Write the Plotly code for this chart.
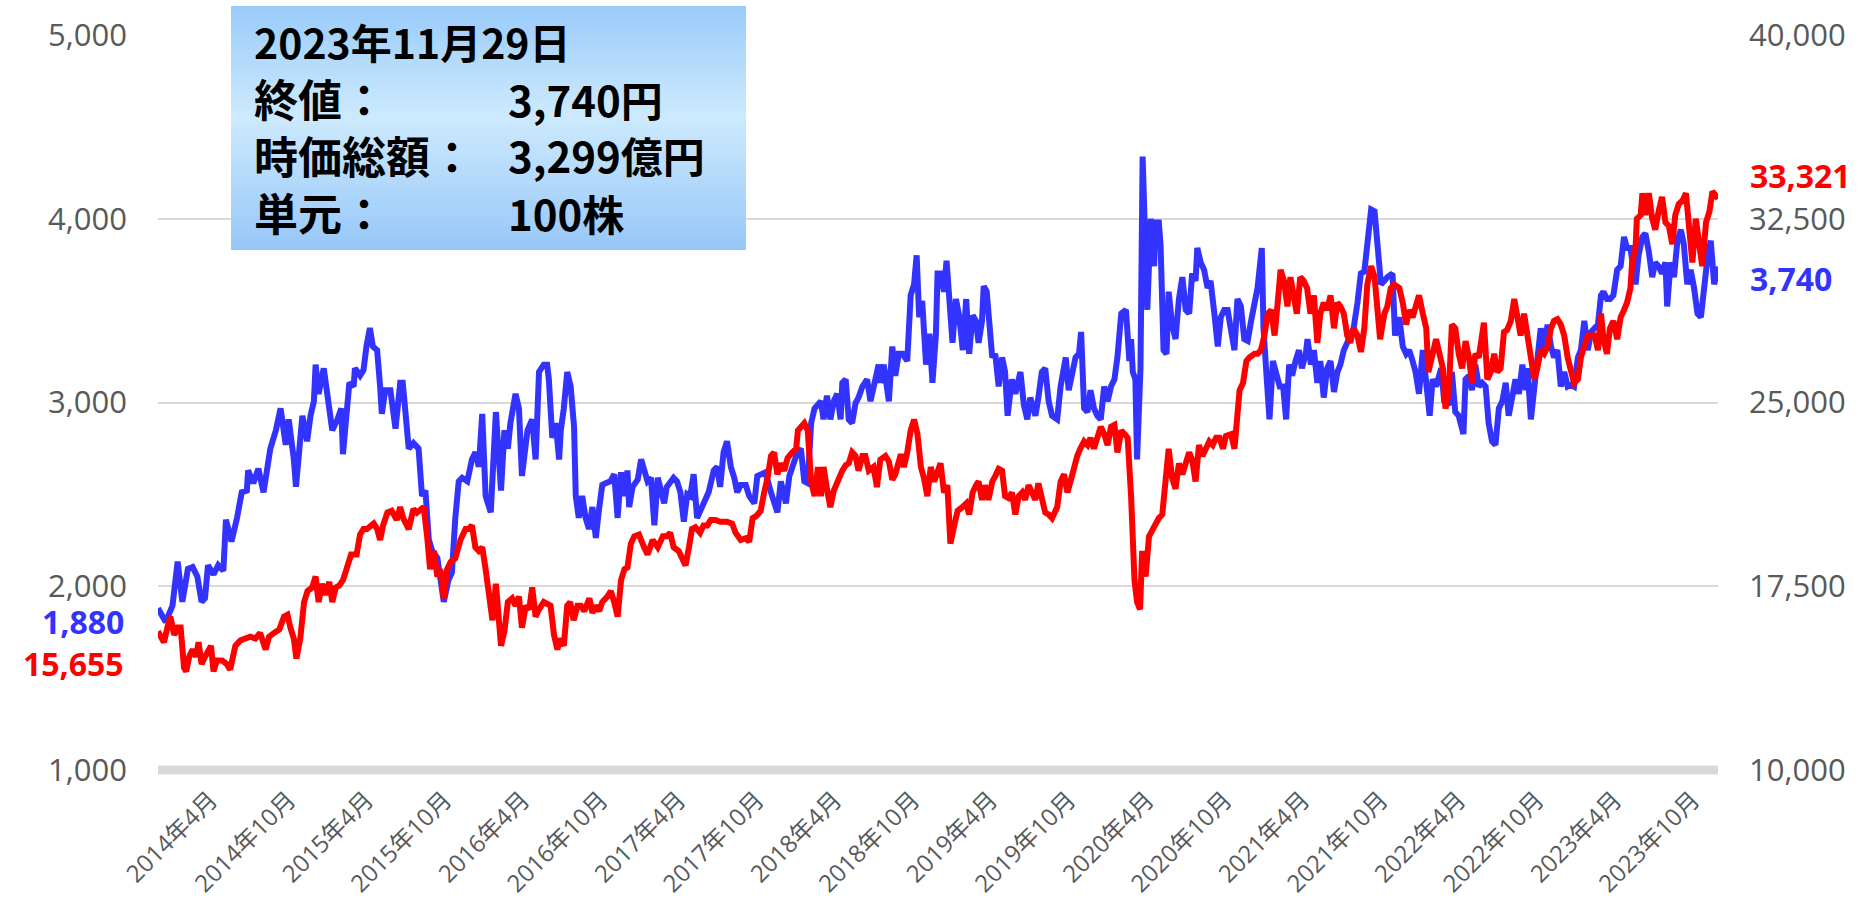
import base64
import pandas as pd
import plotly.graph_objects as go

# ---------------- data ----------------
blue_dates = [
    "2013-11-29", "2013-12-17", "2014-01-02", "2014-01-14", "2014-01-25", "2014-02-07", "2014-02-18", "2014-03-01",
    "2014-03-11", "2014-03-19", "2014-03-26", "2014-04-08", "2014-04-19", "2014-05-01", "2014-05-07", "2014-05-20",
    "2014-06-02", "2014-06-13", "2014-06-25", "2014-06-28", "2014-07-10", "2014-07-22", "2014-08-03", "2014-08-19",
    "2014-09-01", "2014-09-12", "2014-09-24", "2014-10-01", "2014-10-13", "2014-10-18", "2014-11-02", "2014-11-13",
    "2014-11-21", "2014-11-29", "2014-12-03", "2014-12-10", "2014-12-22", "2014-12-30", "2015-01-11", "2015-01-23",
    "2015-02-01", "2015-02-05", "2015-02-12", "2015-02-20", "2015-03-02", "2015-03-05", "2015-03-17", "2015-03-25",
    "2015-04-01", "2015-04-09", "2015-04-16", "2015-04-26", "2015-05-03", "2015-05-07", "2015-05-15", "2015-05-27",
    "2015-06-08", "2015-06-19", "2015-06-25", "2015-07-01", "2015-07-09", "2015-07-20", "2015-08-01", "2015-08-09",
    "2015-08-17", "2015-08-25", "2015-09-02", "2015-09-14", "2015-09-21", "2015-09-29", "2015-10-10", "2015-10-18",
    "2015-10-26", "2015-11-03", "2015-11-11", "2015-11-23", "2015-12-04", "2015-12-12", "2015-12-20", "2015-12-28",
    "2016-01-05", "2016-01-17", "2016-01-29", "2016-02-10", "2016-02-18", "2016-02-26", "2016-03-03", "2016-03-15",
    "2016-03-23", "2016-03-30", "2016-04-12", "2016-04-23", "2016-05-01", "2016-05-09", "2016-05-20", "2016-05-28",
    "2016-06-01", "2016-06-09", "2016-06-17", "2016-06-25", "2016-06-29", "2016-07-06", "2016-07-14", "2016-07-22",
    "2016-07-30", "2016-08-03", "2016-08-10", "2016-08-18", "2016-08-26", "2016-09-03", "2016-09-11", "2016-09-19",
    "2016-09-26", "2016-10-04", "2016-10-12", "2016-10-23", "2016-11-01", "2016-11-09", "2016-11-17", "2016-11-25",
    "2016-12-02", "2016-12-06", "2016-12-14", "2016-12-26", "2017-01-03", "2017-01-10", "2017-01-18", "2017-01-26",
    "2017-02-03", "2017-02-11", "2017-02-19", "2017-02-26", "2017-03-04", "2017-03-12", "2017-03-20", "2017-03-28",
    "2017-04-05", "2017-04-13", "2017-04-21", "2017-04-28", "2017-05-06", "2017-05-14", "2017-05-21", "2017-06-03",
    "2017-06-10", "2017-06-22", "2017-06-30", "2017-07-07", "2017-07-15", "2017-07-23", "2017-08-01", "2017-08-09",
    "2017-08-16", "2017-08-24", "2017-09-05", "2017-09-13", "2017-09-25", "2017-10-02", "2017-10-14", "2017-10-21",
    "2017-11-03", "2017-11-10", "2017-11-18", "2017-11-26", "2017-12-08", "2017-12-16", "2017-12-27", "2018-01-04",
    "2018-01-12", "2018-01-20", "2018-01-28", "2018-02-05", "2018-02-13", "2018-02-21", "2018-02-28", "2018-03-06",
    "2018-03-14", "2018-03-22", "2018-03-30", "2018-04-07", "2018-04-15", "2018-04-19", "2018-04-27", "2018-05-04",
    "2018-05-12", "2018-05-20", "2018-05-27", "2018-06-05", "2018-06-16", "2018-06-24", "2018-07-01", "2018-07-05",
    "2018-07-13", "2018-07-17", "2018-07-25", "2018-08-06", "2018-08-14", "2018-08-21", "2018-08-29", "2018-09-07",
    "2018-09-18", "2018-09-26", "2018-10-04", "2018-10-10", "2018-10-16", "2018-10-23", "2018-11-01", "2018-11-09",
    "2018-11-16", "2018-11-24", "2018-11-28", "2018-12-05", "2018-12-13", "2018-12-19", "2018-12-25", "2019-01-02",
    "2019-01-10", "2019-01-18", "2019-01-26", "2019-02-03", "2019-02-10", "2019-02-18", "2019-02-26", "2019-03-04",
    "2019-03-12", "2019-03-16", "2019-03-23", "2019-04-01", "2019-04-05", "2019-04-12", "2019-04-20", "2019-04-28",
    "2019-05-05", "2019-05-11", "2019-05-21", "2019-05-29", "2019-06-10", "2019-06-18", "2019-06-26", "2019-07-03",
    "2019-07-15", "2019-07-22", "2019-07-30", "2019-08-07", "2019-08-15", "2019-08-23", "2019-09-04", "2019-09-12",
    "2019-09-24", "2019-10-01", "2019-10-09", "2019-10-17", "2019-10-25", "2019-10-30", "2019-11-06", "2019-11-14",
    "2019-11-21", "2019-11-29", "2019-12-07", "2019-12-15", "2019-12-23", "2019-12-31", "2020-01-08", "2020-01-16",
    "2020-01-23", "2020-02-01", "2020-02-12", "2020-02-20", "2020-02-24", "2020-02-28", "2020-03-05", "2020-03-09",
    "2020-03-17", "2020-03-22", "2020-04-02", "2020-04-10", "2020-04-18", "2020-04-21", "2020-04-29", "2020-05-03",
    "2020-05-10", "2020-05-17", "2020-05-22", "2020-05-30", "2020-06-07", "2020-06-15", "2020-06-23", "2020-07-01",
    "2020-07-09", "2020-07-16", "2020-07-24", "2020-07-28", "2020-08-05", "2020-08-13", "2020-08-21", "2020-08-28",
    "2020-09-06", "2020-09-14", "2020-09-21", "2020-09-29", "2020-10-07", "2020-10-15", "2020-10-23", "2020-10-30",
    "2020-11-07", "2020-11-15", "2020-11-23", "2020-12-01", "2020-12-09", "2020-12-16", "2020-12-26", "2020-12-30",
    "2021-01-05", "2021-01-13", "2021-01-21", "2021-01-29", "2021-02-06", "2021-02-14", "2021-02-21", "2021-02-28",
    "2021-03-07", "2021-03-15", "2021-03-23", "2021-03-30", "2021-04-08", "2021-04-12", "2021-04-20", "2021-04-27",
    "2021-05-05", "2021-05-12", "2021-05-20", "2021-05-28", "2021-06-05", "2021-06-13", "2021-06-21", "2021-06-28",
    "2021-07-06", "2021-07-14", "2021-07-21", "2021-07-29", "2021-08-07", "2021-08-15", "2021-08-23", "2021-08-30",
    "2021-09-08", "2021-09-16", "2021-09-23", "2021-10-01", "2021-10-09", "2021-10-16", "2021-10-28", "2021-11-03",
    "2021-11-13", "2021-11-21", "2021-11-29", "2021-12-06", "2021-12-14", "2021-12-21", "2021-12-29", "2022-01-07",
    "2022-01-15", "2022-01-23", "2022-01-30", "2022-02-07", "2022-02-19", "2022-02-26", "2022-03-09", "2022-03-16",
    "2022-03-24", "2022-04-01", "2022-04-12", "2022-04-17", "2022-04-25", "2022-05-02", "2022-05-10", "2022-05-18",
    "2022-05-26", "2022-06-03", "2022-06-10", "2022-06-18", "2022-06-26", "2022-07-04", "2022-07-12", "2022-07-20",
    "2022-07-27", "2022-08-05", "2022-08-12", "2022-08-20", "2022-08-28", "2022-09-05", "2022-09-09", "2022-09-17",
    "2022-09-25", "2022-10-02", "2022-10-10", "2022-10-18", "2022-10-26", "2022-11-03", "2022-11-10", "2022-11-18",
    "2022-11-26", "2022-12-04", "2022-12-12", "2022-12-20", "2022-12-27", "2023-01-05", "2023-01-12", "2023-01-20",
    "2023-01-28", "2023-02-05", "2023-02-13", "2023-02-21", "2023-02-28", "2023-03-06", "2023-03-14", "2023-03-21",
    "2023-03-29", "2023-04-07", "2023-04-15", "2023-04-23", "2023-04-30", "2023-05-08", "2023-05-20", "2023-05-27",
    "2023-06-05", "2023-06-12", "2023-06-20", "2023-06-28", "2023-07-05", "2023-07-13", "2023-07-21", "2023-07-29",
    "2023-08-02", "2023-08-10", "2023-08-18", "2023-08-26", "2023-09-03", "2023-09-10", "2023-09-18", "2023-09-26",
    "2023-10-04", "2023-10-12", "2023-10-20", "2023-10-27", "2023-11-05", "2023-11-12", "2023-11-20", "2023-11-29",
]
blue_vals = [
    1880, 1806, 1895, 2134, 1915, 2094, 2104, 2054,
    1915, 1935, 2114, 2064, 2114, 2084, 2362, 2243,
    2372, 2511, 2521, 2630, 2561, 2640, 2511, 2749,
    2849, 2968, 2769, 2908, 2690, 2541, 2928, 2789,
    2928, 3007, 3206, 3047, 3186, 3027, 2849, 2908,
    2968, 2719, 2868, 3107, 3087, 3186, 3146, 3176,
    3305, 3405, 3305, 3285, 3087, 2938, 3067, 3067,
    2858, 3107, 3107, 2968, 2749, 2779, 2749, 2491,
    2521, 2253, 2193, 2154, 2015, 1915, 2034, 2074,
    2372, 2571, 2590, 2571, 2690, 2729, 2650, 2938,
    2491, 2402, 2948, 2521, 2849, 2749, 2888, 3047,
    2968, 2600, 2849, 2908, 2690, 3166, 3206, 3206,
    3126, 2808, 2888, 2690, 2849, 2968, 3166, 3087,
    2868, 2491, 2372, 2491, 2372, 2312, 2431, 2263,
    2411, 2551, 2561, 2571, 2610, 2372, 2620, 2491,
    2630, 2431, 2541, 2580, 2690, 2630, 2571, 2590,
    2332, 2590, 2511, 2451, 2541, 2571, 2590, 2571,
    2511, 2352, 2501, 2491, 2610, 2372, 2411, 2491,
    2511, 2630, 2650, 2541, 2729, 2789, 2650, 2590,
    2511, 2551, 2551, 2491, 2451, 2600, 2610, 2620,
    2511, 2461, 2402, 2571, 2451, 2600, 2690, 2729,
    2749, 2571, 2561, 2888, 2968, 2987, 3007, 2908,
    3037, 2908, 3007, 3047, 2908, 3107, 3126, 2908,
    2888, 2997, 3027, 3087, 3126, 3007, 3087, 3146,
    3206, 3107, 3206, 3007, 3305, 3146, 3265, 3265,
    3226, 3583, 3643, 3801, 3464, 3553, 3206, 3374,
    3107, 3364, 3702, 3702, 3603, 3772, 3583, 3325,
    3563, 3464, 3285, 3563, 3265, 3474, 3444, 3325,
    3444, 3633, 3603, 3364, 3245, 3265, 3087, 3245,
    3166, 2928, 3126, 3047, 3166, 2987, 2908, 3027,
    2928, 3027, 3166, 3186, 3007, 2928, 2908, 3087,
    3245, 3067, 3166, 3245, 3265, 3384, 2968, 2948,
    3067, 2968, 2928, 2908, 3087, 3007, 3087, 3126,
    3245, 3484, 3504, 3226, 3345, 3166, 3126, 2690,
    3186, 4338, 3504, 4000, 3742, 3980, 3980, 3861,
    3285, 3265, 3603, 3424, 3345, 3563, 3682, 3504,
    3484, 3702, 3662, 3841, 3762, 3722, 3623, 3662,
    3484, 3305, 3464, 3504, 3504, 3364, 3285, 3563,
    3523, 3345, 3335, 3444, 3563, 3623, 3841, 3404,
    3186, 2908, 3226, 3166, 3087, 3087, 2908, 3206,
    3146, 3226, 3285, 3186, 3265, 3345, 3206, 3285,
    3107, 3226, 3027, 3186, 3226, 3057, 3166, 3206,
    3285, 3325, 3364, 3404, 3543, 3702, 3712, 3881,
    4050, 4040, 3801, 3643, 3662, 3682, 3702, 3364,
    3464, 3305, 3265, 3285, 3226, 3166, 3047, 3285,
    3107, 2928, 3126, 3087, 3186, 3007, 2987, 3166,
    2948, 2928, 2828, 3126, 3146, 3067, 3206, 3087,
    3107, 3087, 2888, 2789, 2769, 2968, 3007, 3107,
    2928, 3047, 3126, 3047, 3206, 3067, 3186, 2908,
    3087, 3285, 3404, 3285, 3424, 3305, 3245, 3285,
    3087, 3166, 3087, 3097, 3087, 3245, 3285, 3444,
    3285, 3384, 3404, 3424, 3583, 3603, 3563, 3563,
    3583, 3722, 3742, 3901, 3841, 3841, 3643, 3801,
    3901, 3921, 3821, 3682, 3762, 3742, 3702, 3762,
    3523, 3762, 3682, 3881, 3940, 3861, 3643, 3722,
    3623, 3484, 3464, 3643, 3801, 3881, 3643, 3740,
]

red_dates = [
    "2013-11-29", "2013-12-13", "2013-12-21", "2013-12-28", "2014-01-06", "2014-01-14", "2014-01-21", "2014-01-29",
    "2014-02-03", "2014-02-10", "2014-02-18", "2014-02-26", "2014-03-04", "2014-03-11", "2014-03-19", "2014-03-26",
    "2014-04-02", "2014-04-08", "2014-04-16", "2014-04-28", "2014-05-09", "2014-05-17", "2014-05-29", "2014-06-10",
    "2014-06-21", "2014-07-03", "2014-07-15", "2014-07-26", "2014-08-08", "2014-08-16", "2014-08-27", "2014-09-09",
    "2014-09-20", "2014-09-28", "2014-10-05", "2014-10-13", "2014-10-19", "2014-10-28", "2014-11-06", "2014-11-14",
    "2014-11-25", "2014-12-03", "2014-12-10", "2014-12-18", "2014-12-26", "2015-01-04", "2015-01-11", "2015-01-19",
    "2015-01-27", "2015-02-05", "2015-02-12", "2015-02-24", "2015-03-02", "2015-03-09", "2015-03-17", "2015-03-25",
    "2015-04-02", "2015-04-10", "2015-04-18", "2015-04-26", "2015-05-03", "2015-05-10", "2015-05-20", "2015-05-30",
    "2015-06-11", "2015-06-19", "2015-06-26", "2015-07-09", "2015-07-20", "2015-07-28", "2015-08-05", "2015-08-13",
    "2015-08-21", "2015-08-28", "2015-09-06", "2015-09-14", "2015-09-21", "2015-09-29", "2015-10-07", "2015-10-15",
    "2015-10-26", "2015-11-07", "2015-11-19", "2015-11-26", "2015-12-04", "2015-12-12", "2015-12-20", "2015-12-28",
    "2016-01-05", "2016-01-13", "2016-01-21", "2016-01-29", "2016-02-10", "2016-02-18", "2016-02-26", "2016-03-07",
    "2016-03-15", "2016-03-23", "2016-03-30", "2016-04-08", "2016-04-16", "2016-04-23", "2016-05-01", "2016-05-09",
    "2016-05-20", "2016-06-05", "2016-06-13", "2016-06-21", "2016-06-28", "2016-07-06", "2016-07-14", "2016-07-21",
    "2016-07-29", "2016-08-07", "2016-08-15", "2016-08-23", "2016-09-04", "2016-09-11", "2016-09-19", "2016-09-27",
    "2016-10-04", "2016-10-16", "2016-10-24", "2016-11-01", "2016-11-09", "2016-11-17", "2016-11-25", "2016-12-02",
    "2016-12-10", "2016-12-18", "2016-12-29", "2017-01-10", "2017-01-18", "2017-01-30", "2017-02-11", "2017-02-23",
    "2017-03-04", "2017-03-12", "2017-03-20", "2017-04-01", "2017-04-09", "2017-04-17", "2017-04-25", "2017-05-02",
    "2017-05-10", "2017-05-21", "2017-05-29", "2017-06-07", "2017-06-15", "2017-06-26", "2017-07-07", "2017-07-23",
    "2017-08-04", "2017-08-12", "2017-08-24", "2017-09-05", "2017-09-13", "2017-09-21", "2017-09-29", "2017-10-10",
    "2017-10-18", "2017-10-26", "2017-11-03", "2017-11-10", "2017-11-18", "2017-11-26", "2017-12-04", "2017-12-12",
    "2017-12-23", "2018-01-01", "2018-01-05", "2018-01-20", "2018-01-28", "2018-02-05", "2018-02-13", "2018-02-21",
    "2018-02-28", "2018-03-06", "2018-03-14", "2018-03-22", "2018-03-30", "2018-04-07", "2018-04-19", "2018-04-27",
    "2018-05-04", "2018-05-12", "2018-05-20", "2018-05-27", "2018-06-05", "2018-06-12", "2018-06-20", "2018-07-01",
    "2018-07-09", "2018-07-17", "2018-07-29", "2018-08-06", "2018-08-14", "2018-08-21", "2018-09-03", "2018-09-10",
    "2018-09-18", "2018-09-26", "2018-10-04", "2018-10-12", "2018-10-20", "2018-10-27", "2018-11-04", "2018-11-12",
    "2018-11-20", "2018-12-05", "2018-12-13", "2018-12-21", "2018-12-28", "2019-01-06", "2019-01-14", "2019-01-25",
    "2019-02-03", "2019-02-10", "2019-02-18", "2019-02-26", "2019-03-04", "2019-03-12", "2019-03-19", "2019-03-27",
    "2019-04-05", "2019-04-12", "2019-04-20", "2019-04-28", "2019-05-05", "2019-05-13", "2019-05-21", "2019-05-29",
    "2019-06-06", "2019-06-14", "2019-06-21", "2019-06-29", "2019-07-07", "2019-07-15", "2019-07-22", "2019-07-30",
    "2019-08-07", "2019-08-15", "2019-08-23", "2019-09-04", "2019-09-12", "2019-09-20", "2019-09-28", "2019-10-05",
    "2019-10-13", "2019-10-21", "2019-10-28", "2019-11-06", "2019-11-14", "2019-11-21", "2019-11-29", "2019-12-07",
    "2019-12-15", "2019-12-23", "2019-12-31", "2020-01-08", "2020-01-16", "2020-01-23", "2020-02-01", "2020-02-09",
    "2020-02-16", "2020-02-24", "2020-02-28", "2020-03-03", "2020-03-09", "2020-03-16", "2020-03-21", "2020-03-29",
    "2020-04-06", "2020-04-14", "2020-04-21", "2020-04-29", "2020-05-07", "2020-05-15", "2020-05-22", "2020-05-30",
    "2020-06-07", "2020-06-15", "2020-06-23", "2020-07-01", "2020-07-09", "2020-07-16", "2020-07-24", "2020-08-01",
    "2020-08-09", "2020-08-17", "2020-08-25", "2020-09-02", "2020-09-10", "2020-09-18", "2020-09-26", "2020-10-03",
    "2020-10-15", "2020-10-23", "2020-10-29", "2020-11-04", "2020-11-12", "2020-11-20", "2020-11-27", "2020-12-09",
    "2020-12-16", "2020-12-24", "2021-01-01", "2021-01-09", "2021-01-17", "2021-01-25", "2021-02-02", "2021-02-08",
    "2021-02-16", "2021-02-24", "2021-03-03", "2021-03-10", "2021-03-18", "2021-03-26", "2021-04-03", "2021-04-11",
    "2021-04-19", "2021-04-27", "2021-05-05", "2021-05-12", "2021-05-20", "2021-05-28", "2021-06-05", "2021-06-13",
    "2021-06-21", "2021-06-28", "2021-07-06", "2021-07-14", "2021-07-21", "2021-07-29", "2021-08-07", "2021-08-15",
    "2021-08-23", "2021-08-30", "2021-09-08", "2021-09-16", "2021-09-23", "2021-09-29", "2021-10-09", "2021-10-16",
    "2021-10-24", "2021-11-01", "2021-11-13", "2021-11-21", "2021-11-29", "2021-12-06", "2021-12-14", "2021-12-21",
    "2021-12-29", "2022-01-07", "2022-01-15", "2022-01-20", "2022-01-30", "2022-02-07", "2022-02-15", "2022-02-23",
    "2022-03-01", "2022-03-09", "2022-03-16", "2022-03-24", "2022-04-01", "2022-04-09", "2022-04-17", "2022-04-25",
    "2022-05-02", "2022-05-10", "2022-05-18", "2022-05-30", "2022-06-07", "2022-06-15", "2022-06-23", "2022-06-30",
    "2022-07-08", "2022-07-16", "2022-07-23", "2022-08-01", "2022-08-09", "2022-08-16", "2022-08-24", "2022-09-01",
    "2022-09-09", "2022-09-17", "2022-09-25", "2022-10-02", "2022-10-10", "2022-10-18", "2022-10-26", "2022-11-03",
    "2022-11-10", "2022-11-18", "2022-11-26", "2022-12-04", "2022-12-12", "2022-12-20", "2022-12-27", "2023-01-05",
    "2023-01-12", "2023-01-20", "2023-01-28", "2023-02-05", "2023-02-13", "2023-02-21", "2023-02-28", "2023-03-06",
    "2023-03-14", "2023-03-21", "2023-03-29", "2023-04-07", "2023-04-15", "2023-04-23", "2023-04-30", "2023-05-08",
    "2023-05-12", "2023-05-20", "2023-05-23", "2023-06-01", "2023-06-05", "2023-06-12", "2023-06-20", "2023-06-28",
    "2023-07-05", "2023-07-13", "2023-07-21", "2023-07-29", "2023-08-06", "2023-08-14", "2023-08-21", "2023-08-29",
    "2023-09-07", "2023-09-15", "2023-09-22", "2023-09-30", "2023-10-08", "2023-10-16", "2023-10-23", "2023-11-01",
    "2023-11-09", "2023-11-16", "2023-11-29",
]
red_vals = [
    15655, 15216, 15812, 16259, 15514, 15812, 15812, 14173,
    14024, 14620, 14918, 14620, 15216, 14322, 14620, 14918,
    15067, 14024, 14471, 14471, 14322, 14099, 15067, 15291,
    15365, 15440, 15365, 15589, 14918, 15440, 15589, 15738,
    16259, 16334, 15812, 15365, 14545, 15365, 16855, 17302,
    17451, 17898, 16855, 17600, 17153, 17675, 16855, 17451,
    17526, 17749, 18121, 18792, 18792, 18792, 19611, 19835,
    19835, 19984, 20059, 19835, 19388, 19984, 20506, 20580,
    20208, 20729, 20282, 19835, 20655, 20506, 20655, 20729,
    19537, 18196, 18941, 17898, 18196, 17004, 18196, 18494,
    18643, 19388, 19835, 19835, 19984, 19090, 18941, 19090,
    18196, 17302, 16110, 17600, 15067, 15663, 16855, 17004,
    16706, 17079, 15812, 16706, 16557, 17451, 16259, 16557,
    16855, 16706, 15514, 14918, 15365, 15067, 16706, 16855,
    16110, 16706, 16706, 16482, 17004, 16408, 16706, 16482,
    16855, 17079, 17302, 16855, 16259, 17749, 18196, 18270,
    19239, 19537, 19611, 19090, 18792, 19388, 19090, 19537,
    19537, 19686, 19090, 18941, 18568, 18345, 19090, 19835,
    19910, 19686, 19984, 19984, 20208, 20208, 20133, 20133,
    20059, 19686, 19388, 19463, 19314, 20282, 20357, 20580,
    21325, 21921, 22815, 22964, 22070, 22517, 22219, 22740,
    22964, 23113, 23858, 24156, 23858, 21772, 21176, 22368,
    21176, 22368, 21474, 20729, 21400, 21772, 22219, 22443,
    22517, 22964, 22815, 22219, 22815, 22815, 22219, 22368,
    21549, 22666, 22815, 22592, 21846, 22070, 22890, 22368,
    22964, 23858, 24305, 23709, 22368, 21921, 21176, 22368,
    21772, 22517, 21325, 21623, 19239, 19984, 20580, 20729,
    20878, 20431, 21325, 21623, 21772, 21027, 21623, 21027,
    21772, 21995, 22294, 22219, 21176, 21101, 21325, 20431,
    21176, 21325, 21027, 21623, 21325, 21027, 21698, 21176,
    20506, 20431, 20282, 20729, 21772, 22070, 21325, 21772,
    22443, 22815, 23113, 23411, 23262, 23560, 23113, 23560,
    24007, 23709, 23262, 24007, 24082, 22964, 23858, 23709,
    23560, 21176, 19686, 17749, 16855, 16557, 18941, 17898,
    19537, 19835, 19984, 20282, 20431, 21772, 23113, 21921,
    21474, 22517, 22070, 22517, 22964, 22666, 21772, 23262,
    22815, 23113, 23411, 23262, 23560, 23560, 23113, 23635,
    23709, 23113, 24156, 25497, 25795, 26689, 26838, 26987,
    26987, 27136, 27732, 28626, 28775, 27732, 29222, 30414,
    29967, 28924, 30116, 29520, 28626, 30116, 29967, 29669,
    28626, 29371, 27434, 28626, 29073, 28775, 29371, 28030,
    29073, 28924, 28626, 27732, 27434, 28030, 27732, 27062,
    28030, 29818, 30563, 30116, 28924, 27583, 28626, 28924,
    29669, 29818, 29669, 29073, 28179, 28775, 28477, 28924,
    29371, 28626, 28030, 26242, 27136, 27583, 26987, 26391,
    24752, 25497, 28179, 28030, 26987, 26391, 27508, 26838,
    25795, 26987, 26838, 28254, 25944, 26242, 26987, 26242,
    26391, 27881, 27956, 28328, 29222, 28626, 27732, 28626,
    27881, 26838, 25944, 26391, 27136, 26987, 27285, 28030,
    28328, 28403, 28179, 27732, 26838, 26242, 25795, 25944,
    26838, 27285, 27732, 27732, 27732, 27136, 28626, 27583,
    26987, 28030, 28328, 27583, 28477, 28775, 29073, 29669,
    30712, 31308, 32500, 32649, 33543, 32649, 33543, 32500,
    32053, 32798, 33394, 32351, 32202, 31457, 32649, 33096,
    33245, 33543, 32351, 30712, 32500, 31606, 30563, 32351,
    32798, 33618, 33321,
]

tick_dates = [
    "2014-04-01", "2014-10-01", "2015-04-01", "2015-10-01", "2016-04-01", "2016-10-01", "2017-04-01",
    "2017-10-01", "2018-04-01", "2018-10-01", "2019-04-01", "2019-10-01", "2020-04-01", "2020-10-01",
    "2021-04-01", "2021-10-01", "2022-04-01", "2022-10-01", "2023-04-01", "2023-10-01",
]
tick_labels = [
    "2014年4月", "2014年10月", "2015年4月", "2015年10月", "2016年4月", "2016年10月", "2017年4月",
    "2017年10月", "2018年4月", "2018年10月", "2019年4月", "2019年10月", "2020年4月", "2020年10月",
    "2021年4月", "2021年10月", "2022年4月", "2022年10月", "2023年4月", "2023年10月",
]
left_ticks = [1000, 2000, 3000, 4000, 5000]
right_ticks = [10000, 17500, 25000, 32500, 40000]

info_title = "2023年11月29日"
info_labels = ["終値：", "時価総額：", "単元："]
info_values = ["3,740円", "3,299億円", "100株"]

# ---------------- styling ----------------
W, H = 1870, 903
ML, MR, MT, MB = 158, 152, 35, 133
PW, PH = W - ML - MR, H - MT - MB
BLUE = "#3333FF"
RED = "#FF0000"
GRAY = "#595959"
GRID = "#D9D9D9"
TICKFONT = "Open Sans, Noto Sans CJK JP, sans-serif"
JPFONT = "Noto Sans CJK JP, sans-serif"


def px(x):
    return (x - ML) / PW


def py(y):
    return (H - MB - y) / PH


fig = go.Figure()
fig.add_trace(go.Scatter(x=pd.to_datetime(blue_dates), y=blue_vals, mode="lines",
                         line=dict(color=BLUE, width=6), yaxis="y", hoverinfo="skip"))
fig.add_trace(go.Scatter(x=pd.to_datetime(red_dates), y=red_vals, mode="lines",
                         line=dict(color=RED, width=6), yaxis="y2", hoverinfo="skip"))

fig.update_layout(
    width=W, height=H,
    margin=dict(l=ML, r=MR, t=MT, b=MB, autoexpand=False),
    paper_bgcolor="white", plot_bgcolor="white",
    showlegend=False, hovermode=False,
    xaxis=dict(
        type="date", range=[blue_dates[0], blue_dates[-1]],
        tickmode="array", tickvals=tick_dates, ticktext=tick_labels,
        tickangle=-45, showgrid=False, zeroline=False, showline=False, ticks="",
        tickfont=dict(family=TICKFONT, size=24, color=GRAY), ticklabelstandoff=10,
    ),
    yaxis=dict(
        range=[1000, 5000], tickmode="array", tickvals=left_ticks,
        ticktext=[f"{v:,}" for v in left_ticks],
        showgrid=True, gridcolor=GRID, gridwidth=2, zeroline=False, showline=False, ticks="",
        tickfont=dict(family=TICKFONT, size=31, color=GRAY), ticklabelstandoff=30,
    ),
    yaxis2=dict(
        range=[10000, 40000], overlaying="y", side="right", tickmode="array", tickvals=right_ticks,
        ticktext=[f"{v:,}" for v in right_ticks],
        showgrid=False, zeroline=False, showline=False, ticks="",
        tickfont=dict(family=TICKFONT, size=31, color=GRAY), ticklabelstandoff=30,
    ),
)

# thick baseline
fig.add_shape(type="line", xref="paper", yref="paper", x0=0, x1=1, y0=0, y1=0,
              line=dict(color=GRID, width=9), layer="below")

# gradient info box
svg = ("<svg xmlns='http://www.w3.org/2000/svg' width='100' height='100' viewBox='0 0 100 100' "
       "preserveAspectRatio='none'><defs><linearGradient id='g' x1='0' y1='0' x2='0' y2='1'>"
       "<stop offset='0' stop-color='#99CBFA'/><stop offset='0.45' stop-color='#CDEAFD'/>"
       "<stop offset='1' stop-color='#97C7F8'/></linearGradient></defs>"
       "<rect x='0' y='0' width='100' height='100' fill='url(#g)'/></svg>")
src = "data:image/svg+xml;base64," + base64.b64encode(svg.encode()).decode()
fig.add_layout_image(source=src, xref="paper", yref="paper", x=px(231), y=py(6),
                     sizex=(746 - 231) / PW, sizey=(250 - 6) / PH,
                     xanchor="left", yanchor="top", sizing="stretch", layer="above")

ann = []
ann.append(dict(text=info_title, x=px(253), y=py(41), size=41))
for i, (lab, val) in enumerate(zip(info_labels, info_values)):
    yy = py(98 + 57 * i)
    ann.append(dict(text=lab, x=px(253), y=yy, size=44))
    ann.append(dict(text=val, x=px(507), y=yy, size=42))
for a in ann:
    size = a.pop("size")
    a.update(xref="paper", yref="paper", showarrow=False, xanchor="left", yanchor="middle", borderpad=0,
             font=dict(family=JPFONT, size=size, color="black", weight="bold"))
    fig.add_annotation(**a)

end_labels = [
    (f"{blue_vals[0]:,}", BLUE, px(125), py(621), "right"),
    (f"{red_vals[0]:,}", RED, px(125), py(663), "right"),
    (f"{red_vals[-1]:,}", RED, px(1749), py(176), "left"),
    (f"{blue_vals[-1]:,}", BLUE, px(1749), py(278), "left"),
]
for txt, col, xx, yy, anc in end_labels:
    fig.add_annotation(text=txt, x=xx, y=yy, xref="paper", yref="paper", xanchor=anc, yanchor="middle",
                       showarrow=False, borderpad=0,
                       font=dict(family=TICKFONT, size=32, color=col, weight="bold"))

fig.write_html("out.html", config={"displayModeBar": False},
               post_script="document.body.style.margin='0';document.body.style.overflow='hidden';")
